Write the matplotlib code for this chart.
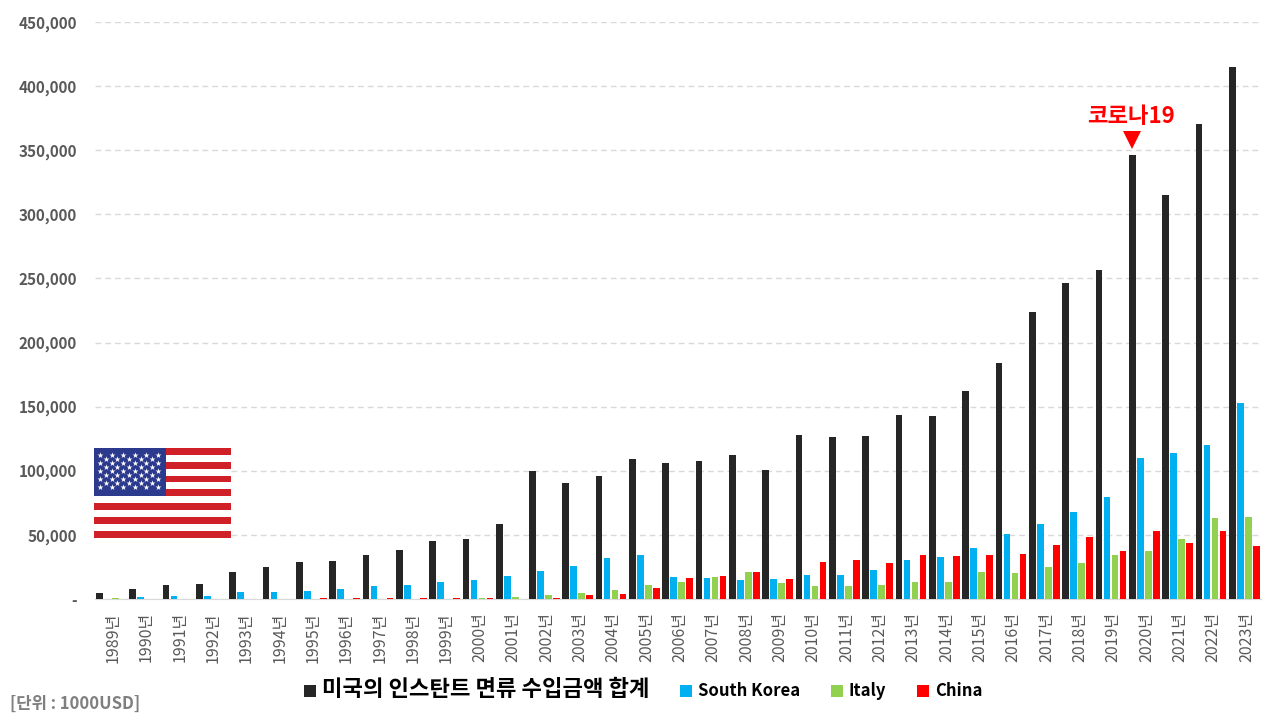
import matplotlib
matplotlib.use("Agg")
import matplotlib.pyplot as plt
from matplotlib.patches import Rectangle
from matplotlib.transforms import ScaledTranslation

plt.rcParams['font.family'] = ['Noto Sans CJK KR', 'DejaVu Sans']

W, H = 1280, 720

years = list(range(1989, 2024))
total = [4500, 7500, 10900, 12000, 20800, 24700, 28900, 30000, 34300, 38200,
         45000, 46500, 58500, 99800, 90500, 96000, 109000, 105800, 108000, 112000,
         100400, 127700, 126000, 127000, 143400, 143000, 162000, 184000, 223800, 246500,
         256600, 346000, 315000, 370500, 415000]
korea = [0, 1500, 2300, 2600, 5400, 5400, 6000, 8000, 10100, 10900,
         13500, 14800, 18000, 21800, 25700, 32200, 34300, 17000, 16400, 14800,
         15800, 18700, 18700, 22400, 30700, 32500, 40000, 50500, 58500, 67900,
         79500, 110200, 113600, 120000, 152800]
italy = [1000, 0, 0, 0, 0, 0, 0, 0, 0, 0,
         0, 800, 1500, 3100, 4400, 7000, 10900, 13000, 17000, 20800,
         12500, 9900, 10400, 10900, 13500, 13500, 20800, 20300, 24700, 28000,
         34300, 37400, 47000, 63000, 63700]
china = [0, 0, 0, 0, 0, 0, 900, 900, 800, 800,
         900, 900, 0, 800, 3100, 3900, 8600, 16400, 18000, 20800,
         15800, 28600, 30700, 28000, 34000, 33500, 34000, 35000, 42000, 48300,
         37200, 52800, 43700, 53000, 41000]

series_names = ['미국의 인스탄트 면류 수입금액 합계', 'South Korea', 'Italy', 'China']
series_colors = ['#262626', '#00b0f0', '#92d050', '#ff0000']
yticks = list(range(0, 450001, 50000))


def draw_flag(fig):
    # overlay axes in pixel coordinates of the flag itself
    x0, y0, w, h = 94, 448, 137, 89.5
    fa = fig.add_axes([x0 / W, 1 - (y0 + h) / H, w / W, h / H], zorder=5)
    fa.set_xlim(0, w)
    fa.set_ylim(h, 0)
    fa.axis('off')
    pitch = h / 13
    fa.add_patch(Rectangle((0, 0), w, h, color='white', lw=0))
    for i in range(0, 13, 2):
        fa.add_patch(Rectangle((0, i * pitch), w, pitch, color='#cf2027', lw=0))
    fa.add_patch(Rectangle((0, 0), 71.5, 7 * pitch, color='#2b3a8c', lw=0))
    sx, sy = [], []
    for row in range(9):
        n = 6 if row % 2 == 0 else 5
        for c in range(n):
            sx.append(6 + c * 11.6 + (5.8 if row % 2 else 0))
            sy.append(7 + row * 4.05)
    fa.scatter(sx, sy, s=20, marker='*', color='white', lw=0)


fig = plt.figure(figsize=(W / 100, H / 100), dpi=100)
ax = fig.add_axes([94.6 / W, 1 - 599 / H, (1261 - 94.6) / W, 577 / H])

x = list(range(len(years)))
all_series = [total, korea, italy, china]
for i, vals in enumerate(all_series):
    pos = [p + (i - 1.5) * 0.24 for p in x]
    ax.bar(pos, vals, width=0.2, color=series_colors[i], label=series_names[i], zorder=3)

ax.set_xlim(-0.5, len(years) - 0.5)
ax.set_ylim(0, 450000)
ax.set_yticks(yticks)
ax.set_yticklabels(['-' if v == 0 else f'{v:,}' for v in yticks],
                   fontsize=11, fontweight='bold', color='#595959')
ax.set_xticks(x)
ax.set_xticklabels([f'{y}년' for y in years], rotation=90, fontsize=11.5,
                   fontweight='medium', color='#595959')
ax.tick_params(axis='both', length=0)
ax.tick_params(axis='y', pad=12.5)
ax.tick_params(axis='x', pad=9.5)
# year labels sit a little right of the category centre
for lab in ax.get_xticklabels():
    lab.set_transform(lab.get_transform() + ScaledTranslation(2 / 100, 0, fig.dpi_scale_trans))
ax.grid(axis='y', color='#d9d9d9', lw=1, dashes=(4.2, 2.8), zorder=0)
for name in ['top', 'left', 'right']:
    ax.spines[name].set_visible(False)
ax.spines['bottom'].set_color('#d9d9d9')

# covid marker over the 2020 total bar
i2020 = years.index(2020)
ax.plot(i2020 - 0.36, 358000, marker='v', ms=13, color='#ff0000', mew=0, zorder=4)
ax.text(i2020 - 0.39, 376000, '코로나19', color='#ff0000', fontsize=16, fontweight='bold',
        ha='center', va='center')

handles, labels = ax.get_legend_handles_labels()
leg = fig.legend(handles, labels, loc='center', bbox_to_anchor=(643 / W, 1 - 690 / H), ncol=4,
                 frameon=False, handlelength=0.72, handleheight=0.72, handletextpad=0.36,
                 columnspacing=1.85, prop={'size': 12, 'weight': 'bold'})
leg.get_texts()[0].set_fontsize(16)

fig.text(10 / W, 1 - 704 / H, '[단위 : 1000USD]', fontsize=12, fontweight='bold',
         color='#7f7f7f', ha='left', va='center')

draw_flag(fig)

fig.savefig('out.png', dpi=100)
